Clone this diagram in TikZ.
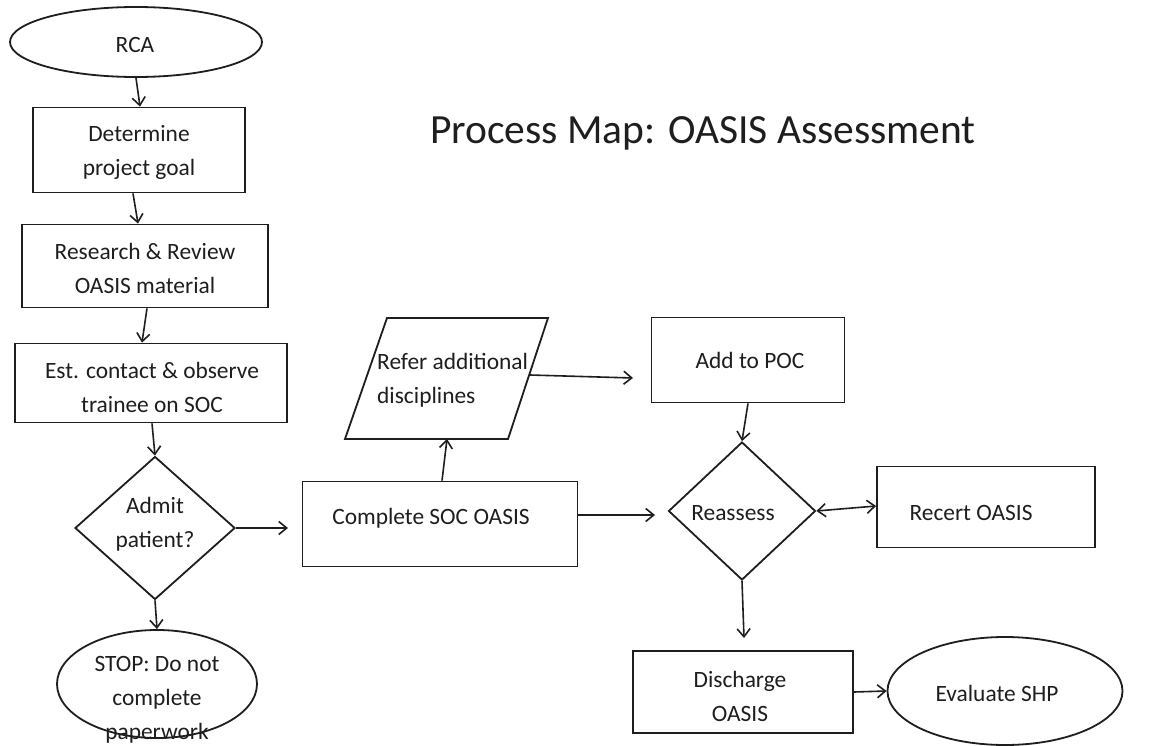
\documentclass[tikz,border=0pt]{standalone}
\usepackage{fontspec}
\setmainfont{Carlito}
\usetikzlibrary{shapes.geometric,arrows.meta}
\definecolor{ink}{HTML}{1E1E1E}
\tikzset{
  shapeline/.style={draw=ink, line width=1.8pt, inner sep=0pt},
  boxshape/.style={shapeline, rectangle},
  termshape/.style={shapeline, ellipse},
  decshape/.style={shapeline, diamond},
  lbl/.style={text=ink, align=center, inner sep=0pt, font=\fontsize{23.4}{34}\selectfont},
  lbll/.style={lbl, align=left},
  arr/.style={draw=ink, line width=1.6pt, -{Straight Barb[length=8pt,width=13pt,line width=1.6pt]}},
  dblarr/.style={draw=ink, line width=1.6pt, {Straight Barb[length=8pt,width=13pt,line width=1.6pt]}-{Straight Barb[length=8pt,width=13pt,line width=1.6pt]}},
}
\begin{document}
\begin{tikzpicture}[x=1pt,y=-1pt]
\useasboundingbox (0,0) rectangle (1152,746);
\fill[white] (0,0) rectangle (1152,746);

% title
\node[lbl, font=\fontsize{41.5}{48}\selectfont] (title) at (703,133) {Process Map: OASIS Assessment};

% shapes
\node[termshape, minimum width=252pt, minimum height=70pt] (rca) at (136,42) {};
\node[boxshape, minimum width=212pt, minimum height=85pt] (det) at (139,150) {};
\node[boxshape, minimum width=246pt, minimum height=83pt] (res) at (145,266) {};
\node[boxshape, minimum width=272pt, minimum height=79pt] (est) at (151,383) {};
\node[decshape, minimum width=160pt, minimum height=143pt] (admit) at (155,528) {};
\node[termshape, minimum width=200pt, minimum height=108pt] (stop) at (157,684) {};
\node[boxshape, minimum width=275pt, minimum height=85pt] (comp) at (440,524) {};
\draw[ink, line width=1.8pt] (387,318) coordinate (rTL) -- (548,318) coordinate (rTR)
  -- (508,439) coordinate (rBR) -- (345,439) coordinate (rBL) -- cycle;
\node[boxshape, minimum width=193pt, minimum height=85pt] (add) at (748,360) {};
\node[decshape, minimum width=147pt, minimum height=138pt] (reas) at (742,511) {};
\node[boxshape, minimum width=218pt, minimum height=81pt] (recert) at (986,507) {};
\node[boxshape, minimum width=220pt, minimum height=82pt] (dis) at (743,692) {};
\node[termshape, minimum width=235pt, minimum height=108pt] (eval) at (1005,691) {};

% labels
\node[lbl] (rca-t) at (135,45) {RCA};
\node[lbl] (det-t) at (139,152) {Determine\\project goal};
\node[lbl] (res-t) at (145,268) {Research \& Review\\OASIS material};
\node[lbl] (est-t) at (152,387) {Est. contact \& observe\\trainee on SOC};
\node[lbl] (admit-t) at (155,524) {Admit\\patient?};
\node[lbl] (stop-t) at (157,700) {STOP: Do not\\complete\\paperwork};
\node[lbl] (comp-t) at (431,518) {Complete SOC OASIS};
\node[lbll, anchor=west] (ref-t) at (377,380) {Refer additional\\disciplines};
\node[lbl] (add-t) at (750,360) {Add to POC};
\node[lbl] (reas-t) at (733,513) {Reassess};
\node[lbl] (recert-t) at (971,513) {Recert OASIS};
\node[lbl] (dis-t) at (740,696) {Discharge\\OASIS};
\node[lbl] (eval-t) at (997,693) {Evaluate SHP};

% connector end points
\coordinate (refbot) at (447,439);
\coordinate (refright) at (530,375);
\coordinate (c-admit) at (288,528);
\coordinate (c-add) at (633,378);
\coordinate (c-reas) at (655,515);
\coordinate (c-dis) at (744,638);
\coordinate (c-comp) at (578,515);

% connectors
\draw[arr] (rca.south) -- ([xshift=1pt]det.north);
\draw[arr] ([xshift=-6pt]det.south) -- ([xshift=-7pt]res.north);
\draw[arr] ([xshift=2pt]res.south) -- ([xshift=-9pt]est.north);
\draw[arr] ([xshift=1pt]est.south) -- (admit.north);
\draw[arr] (admit.south) -- (stop.north);
\draw[arr] (admit.east) -- (c-admit);
\draw[arr] ([xshift=2pt]comp.north) -- (refbot);
\draw[arr] (refright) -- (c-add);
\draw[arr] (c-comp) -- (c-reas);
\draw[arr] (add.south) -- (reas.north);
\draw[dblarr] (reas.east) -- ([yshift=1pt]recert.west);
\draw[arr] (reas.south) -- (c-dis);
\draw[arr] (dis.east) -- (eval.west);
\end{tikzpicture}
\end{document}
